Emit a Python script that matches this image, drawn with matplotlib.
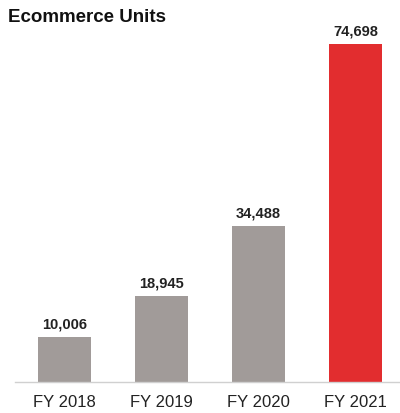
import matplotlib
matplotlib.use("Agg")
import matplotlib.pyplot as plt

years = ["FY 2018", "FY 2019", "FY 2020", "FY 2021"]
units = [10006, 18945, 34488, 74698]
colors = ["#A19B99", "#A19B99", "#A19B99", "#E22D2F"]

plt.rcParams["font.family"] = ["Liberation Sans", "DejaVu Sans"]

fig = plt.figure(figsize=(4.0, 4.14), dpi=100)
ax = fig.add_axes([0.0375, 31 / 414, 0.9625, 383 / 414])

x = list(range(len(years)))
bars = ax.bar(x, units, width=0.546, color=colors, zorder=2)

for xi, v in zip(x, units):
    ax.text(xi, v + 1400, f"{v:,}", ha="center", va="bottom",
            fontsize=10.5, fontweight="bold", color="#222222")

ax.set_xlim(-0.51, 3.46)
ax.set_ylim(0, 84640)
ax.set_xticks(x)
ax.set_xticklabels(years, fontsize=12, color="#222222")
ax.tick_params(axis="x", length=0, pad=9)
ax.set_yticks([])

for side in ["top", "right", "left"]:
    ax.spines[side].set_visible(False)
ax.spines["bottom"].set_color("#D0D0D0")
ax.spines["bottom"].set_linewidth(1.0)

fig.text(8 / 400, 1 - 18 / 414, "Ecommerce Units", fontsize=13.5,
         fontweight="bold", ha="left", va="center", color="#111111")

fig.savefig("out.png", dpi=100)
